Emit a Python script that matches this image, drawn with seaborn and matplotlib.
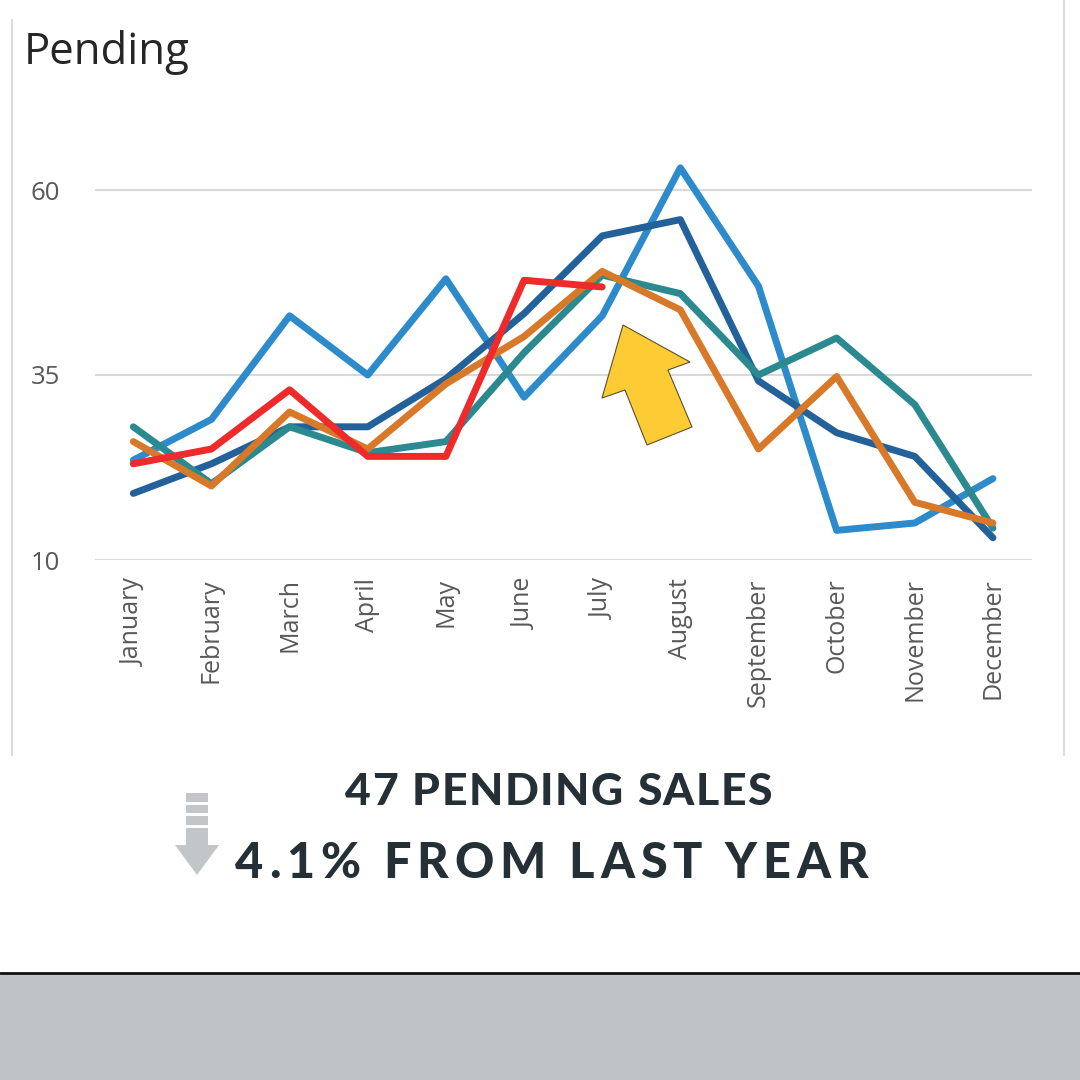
import numpy as np
import pandas as pd
import matplotlib
matplotlib.use("Agg")
import matplotlib.pyplot as plt
import seaborn as sns
from matplotlib.patches import Polygon, Rectangle
from matplotlib.lines import Line2D
from matplotlib.font_manager import FontProperties

# data
months = ['January', 'February', 'March', 'April', 'May', 'June', 'July',
          'August', 'September', 'October', 'November', 'December']
light_blue = [23.5, 29, 43, 35, 48, 32, 43, 63, 47, 14, 15, 21]
dark_blue = [19, 23, 28, 28, 34.5, 43.3, 53.8, 56, 34.2, 27.2, 24, 13]
teal = [28, 20.3, 28, 24.5, 26, 38, 48.5, 46, 35, 40, 31, 14.3]
orange = [26, 20, 30, 25, 33.8, 40.2, 49, 43.8, 25, 34.8, 17.8, 15]
red = [23, 25, 33, 24, 24, 47.8, 46.9]
y_ticks = [10, 35, 60]

series = {'Series 1': light_blue, 'Series 2': dark_blue, 'Series 3': teal,
          'Series 4': orange, 'Series 5': red}
colors = {'Series 1': '#2E8BCB', 'Series 2': '#22619A', 'Series 3': '#2A8A8F',
          'Series 4': '#D8792A', 'Series 5': '#EE2A2B'}

rows = []
for name, vals in series.items():
    for i, v in enumerate(vals):
        rows.append({'month': i, 'value': v, 'series': name})
df = pd.DataFrame(rows)

W, H = 1080, 1080

def fx(px):
    return px / W

def fy(py):
    return 1 - py / H

sns.set_theme(style='white')
plt.rcParams['font.family'] = ['Open Sans', 'DejaVu Sans']

fig = plt.figure(figsize=(10.8, 10.8), dpi=100)
ax = fig.add_axes([fx(95), fy(560), fx(1032) - fx(95), fy(116) - fy(560)])

sns.lineplot(data=df, x='month', y='value', hue='series', palette=colors,
             linewidth=5, ax=ax, legend=False, solid_capstyle='round')

ax.set_xlim(-0.49, 11.5)
ax.set_ylim(10, 70)
ax.set_yticks(y_ticks)
ax.set_yticklabels([str(t) for t in y_ticks], fontsize=18.5, color='#595959')
ax.set_xticks(range(len(months)))
ax.set_xticklabels(months, rotation=90, fontsize=18, color='#595959')
ax.tick_params(axis='y', length=0, pad=25)
ax.tick_params(axis='x', length=0, pad=13)
ax.set_xlabel('')
ax.set_ylabel('')
for s in ax.spines.values():
    s.set_visible(False)
ax.yaxis.grid(True, color='#d9d9d9', linewidth=1.5)
ax.xaxis.grid(False)
ax.set_axisbelow(True)
ax.patch.set_alpha(0)

# title
fig.text(fx(24), fy(64), 'Pending', fontsize=31.5, color='#262626',
         ha='left', va='baseline')

# chart frame sides
fig.add_artist(Line2D([fx(12), fx(12)], [fy(20), fy(755)], color='#dcdcdc', lw=1.6))
fig.add_artist(Line2D([fx(1064), fx(1064)], [fy(0), fy(755)], color='#dcdcdc', lw=1.6))

# yellow arrow annotation
arrow_px = [(623, 325), (690, 362), (668, 370), (692, 427),
            (647, 445), (625, 390), (602, 398)]
fig.add_artist(Polygon([(fx(x), fy(y)) for x, y in arrow_px], closed=True,
                       facecolor='#FDCB33', edgecolor='#5a5030', lw=0.8,
                       transform=fig.transFigure))

# gray down arrow icon
icon = '#c3c6c9'
for top, bot in [(793, 802), (805, 813), (816, 825)]:
    fig.add_artist(Rectangle((fx(186), fy(bot)), fx(208) - fx(186), fy(top) - fy(bot),
                             facecolor=icon, edgecolor='none', transform=fig.transFigure))
fig.add_artist(Rectangle((fx(186), fy(846)), fx(208) - fx(186), fy(828) - fy(846),
                         facecolor=icon, edgecolor='none', transform=fig.transFigure))
fig.add_artist(Polygon([(fx(175), fy(845)), (fx(219), fy(845)), (fx(197), fy(875))],
                       closed=True, facecolor=icon, edgecolor='none',
                       transform=fig.transFigure))


def tracked_text(s, x0, x1, baseline, size, color='#243036'):
    # spread the characters of s evenly between x0 and x1 (pixels)
    r = fig.canvas.get_renderer()
    fp = FontProperties(family=['Lato', 'DejaVu Sans'], weight='black', size=size)
    def width(t):
        return r.get_text_width_height_descent(t, fp, ismath=False)[0]
    sp = width('a a') - width('aa')
    widths = [sp if c == ' ' else width(c) for c in s]
    gap = ((x1 - x0) - sum(widths)) / (len(s) - 1)
    x = x0
    for c, w in zip(s, widths):
        if c != ' ':
            fig.text(fx(x), fy(baseline), c, fontproperties=fp, color=color,
                     ha='left', va='baseline')
        x += w + gap


tracked_text('47 PENDING SALES', 345, 772, 805, 32)
tracked_text('4.1% FROM LAST YEAR', 235, 868, 878, 35)

# bottom band
fig.add_artist(Rectangle((0, 0), 1, fy(974), facecolor='#bfc3c6', edgecolor='none',
                         transform=fig.transFigure))
fig.add_artist(Line2D([0, 1], [fy(972.5), fy(972.5)], color='#111111', lw=2))

fig.savefig('out.png', dpi=100, facecolor='white')
